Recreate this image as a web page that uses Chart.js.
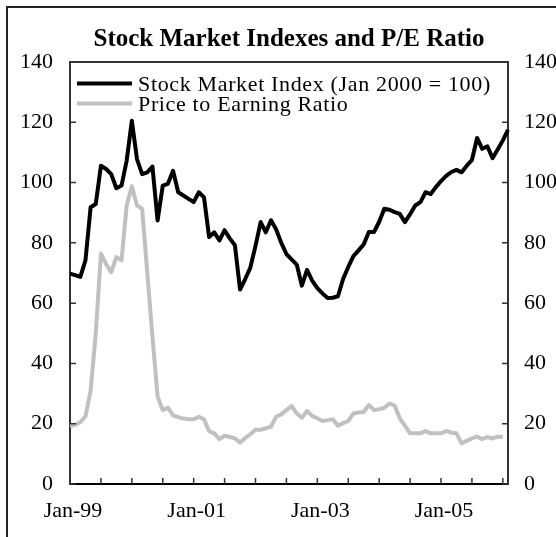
<!DOCTYPE html>
<html>
<head>
<meta charset="utf-8">
<script src="https://cdn.jsdelivr.net/npm/chart.js@4.4.1/dist/chart.umd.min.js"></script>
<style>
    html, body { margin: 0; padding: 0; background: #fff; }
</style>
</head>
<body>
<canvas id="pe_chart" width="556" height="537"></canvas>
<script>
// Categories: monthly, Jan-99 .. Feb-06
var monthNames = ["Jan", "Feb", "Mar", "Apr", "May", "Jun", "Jul", "Aug", "Sep", "Oct", "Nov", "Dec"];
var yearCodes = ["99", "00", "01", "02", "03", "04", "05", "06"];
var months = [];
yearCodes.forEach(function (y) {
    monthNames.forEach(function (m) { months.push(m + "-" + y); });
});
months = months.slice(0, 86);

// Series
var stockIndex = [
    69.8, 69.3, 68.7, 74.2, 91.8, 92.9, 105.6, 104.5, 102.8, 98.1,
    99.0, 107.3, 120.5, 107.8, 102.8, 103.4, 105.3, 87.4, 99.0, 99.6,
    103.9, 96.8, 95.7, 94.6, 93.5, 96.8, 95.1, 81.9, 83.5, 80.8,
    84.2, 81.5, 79.2, 64.5, 68.0, 71.8, 79.0, 86.9, 83.5, 87.5,
    84.5, 80.0, 76.3, 74.5, 72.8, 65.8, 71.0, 67.5, 65.0, 63.2,
    61.7, 61.8, 62.3, 68.0, 72.0, 75.6, 77.5, 79.5, 83.6, 83.6,
    87.0, 91.3, 91.0, 90.2, 89.6, 86.9, 89.5, 92.4, 93.5, 96.8,
    96.2, 98.5, 100.5, 102.2, 103.5, 104.2, 103.4, 105.6, 107.5, 114.8,
    111.2, 112.0, 108.1, 111.0, 114.0, 117.5
];
var peRatio = [
    19.3, 19.6, 20.5, 22.5, 31.0, 50.0, 76.4, 73.0, 70.3, 75.3,
    74.2, 92.4, 98.8, 92.4, 91.3, 70.0, 49.0, 29.0, 24.5, 25.3,
    22.8, 22.2, 21.7, 21.5, 21.5, 22.3, 21.5, 17.5, 16.8, 14.9,
    16.0, 15.6, 15.2, 13.8, 15.3, 16.5, 18.0, 18.0, 18.5, 19.0,
    22.3, 23.1, 24.5, 25.9, 23.4, 22.0, 24.2, 22.6, 21.8, 20.9,
    21.2, 21.5, 19.3, 20.2, 20.9, 23.4, 23.7, 23.9, 26.2, 24.5,
    24.8, 25.3, 26.7, 26.0, 21.8, 19.3, 16.8, 16.8, 16.8, 17.6,
    16.8, 16.8, 16.8, 17.6, 17.0, 16.8, 13.5, 14.3, 15.1, 15.7,
    14.9, 15.6, 15.1, 15.7, 15.7
];

// Tick labels
var tickLabels = ["Jan-99", "Jan-01", "Jan-03", "Jan-05"];
var tickStep = 6; // small inside tick marks every 6 months

var serif = "'Liberation Serif', 'Times New Roman', serif";

// Frame, inside tick marks and legend
var framePlugin = {
    id: "frame",
    beforeDraw: function (chart) {
        var ctx = chart.ctx;
        ctx.save();
        ctx.fillStyle = "#fff";
        ctx.fillRect(0, 0, chart.width, chart.height);
        ctx.strokeStyle = "#222";
        ctx.lineWidth = 2;
        ctx.strokeRect(7, 7, chart.width + 20, chart.height + 20);
        ctx.restore();
    },
    afterDraw: function (chart) {
        var ctx = chart.ctx;
        var area = chart.chartArea;
        var x = chart.scales.x;
        var y = chart.scales.y;
        ctx.save();
        ctx.strokeStyle = "#333";
        ctx.lineWidth = 2;
        // top line of the plot frame
        ctx.beginPath();
        ctx.moveTo(area.left, area.top);
        ctx.lineTo(area.right, area.top);
        ctx.stroke();
        // inside ticks
        ctx.lineWidth = 1.5;
        ctx.beginPath();
        for (var i = 0; i < months.length; i += tickStep) {
            var px = x.getPixelForValue(i);
            ctx.moveTo(px, area.bottom);
            ctx.lineTo(px, area.bottom - 6);
        }
        y.ticks.forEach(function (t) {
            var py = y.getPixelForValue(t.value);
            ctx.moveTo(area.left, py);
            ctx.lineTo(area.left + 6, py);
            ctx.moveTo(area.right, py);
            ctx.lineTo(area.right - 6, py);
        });
        ctx.stroke();

        // legend
        ctx.font = "22px " + serif;
        ctx.letterSpacing = "0.65px";
        ctx.textBaseline = "alphabetic";
        ctx.textAlign = "left";
        chart.data.datasets.forEach(function (ds, k) {
            var ly = area.top + 21.5 + k * 20;
            ctx.strokeStyle = ds.borderColor;
            ctx.lineWidth = 4;
            ctx.beginPath();
            ctx.moveTo(area.left + 7, ly);
            ctx.lineTo(area.left + 62, ly);
            ctx.stroke();
            ctx.fillStyle = "#000";
            ctx.fillText(ds.label, area.left + 68, ly + 7);
        });
        ctx.restore();
    }
};

var ctx = document.getElementById("pe_chart").getContext("2d");

new Chart(ctx, {
    type: "line",
    data: {
        labels: months,
        datasets: [{
            label: "Stock Market Index (Jan 2000 = 100)",
            data: stockIndex,
            borderColor: "#000000",
            borderWidth: 4,
            pointRadius: 0,
            tension: 0,
            borderJoinStyle: "round"
        }, {
            label: "Price to Earning Ratio",
            data: peRatio,
            borderColor: "#c0c0c0",
            borderWidth: 4,
            pointRadius: 0,
            tension: 0,
            borderJoinStyle: "round"
        }]
    },
    options: {
        responsive: false,
        animation: false,
        layout: { padding: 0 },
        plugins: {
            legend: { display: false },
            tooltip: { enabled: false },
            title: {
                display: true,
                text: "Stock Market Indexes and P/E Ratio",
                color: "#000",
                fullSize: false,
                font: { family: serif, size: 25, weight: "bold", lineHeight: 1.2 },
                padding: { top: 25, bottom: 7 }
            }
        },
        scales: {
            x: {
                type: "category",
                offset: false,
                grid: { display: false, drawTicks: false },
                border: { display: true, color: "#000", width: 2 },
                ticks: {
                    autoSkip: false,
                    maxRotation: 0,
                    minRotation: 0,
                    padding: 14,
                    labelOffset: 3,
                    color: "#000",
                    font: { family: serif, size: 22 },
                    callback: function (value) {
                        var lab = this.getLabelForValue(value);
                        return tickLabels.indexOf(lab) >= 0 ? lab : "";
                    }
                },
                afterFit: function (scale) { scale.height = 53; }
            },
            y: {
                position: "left",
                min: 0,
                max: 140,
                grid: { display: false, drawTicks: false },
                border: { display: true, color: "#333", width: 2 },
                ticks: {
                    stepSize: 20,
                    padding: 17,
                    color: "#000",
                    font: { family: serif, size: 22 }
                },
                afterFit: function (scale) { scale.width = 70; }
            },
            y2: {
                position: "right",
                min: 0,
                max: 140,
                grid: { display: false, drawTicks: false },
                border: { display: true, color: "#333", width: 2 },
                ticks: {
                    stepSize: 20,
                    padding: 16,
                    color: "#000",
                    font: { family: serif, size: 22 }
                },
                afterFit: function (scale) { scale.width = 48; }
            }
        }
    },
    plugins: [framePlugin]
});
</script>
</body>
</html>
